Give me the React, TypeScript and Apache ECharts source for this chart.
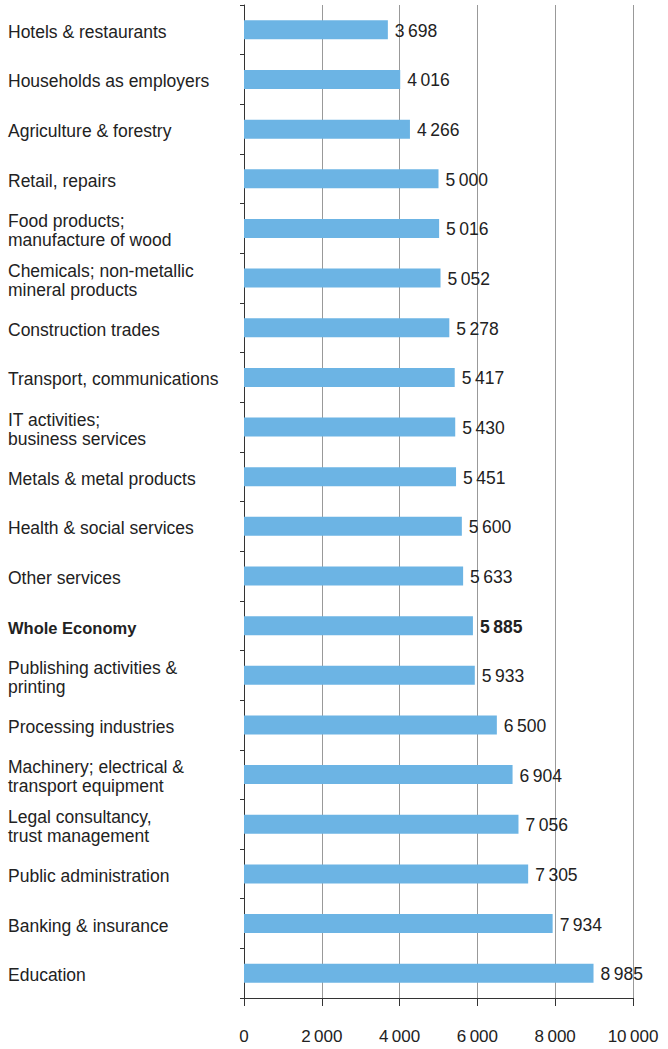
import React, { useEffect, useRef } from "react";
import * as echarts from "echarts";

const categories = [
  "Hotels & restaurants",
  "Households as employers",
  "Agriculture & forestry",
  "Retail, repairs",
  "Food products;\nmanufacture of wood",
  "Chemicals; non-metallic\nmineral products",
  "Construction trades",
  "Transport, communications",
  "IT activities;\nbusiness services",
  "Metals & metal products",
  "Health & social services",
  "Other services",
  "Whole Economy",
  "Publishing activities &\nprinting",
  "Processing industries",
  "Machinery; electrical &\ntransport equipment",
  "Legal consultancy,\ntrust management",
  "Public administration",
  "Banking & insurance",
  "Education",
];

const values = [
  3698, 4016, 4266, 5000, 5016, 5052, 5278, 5417, 5430, 5451, 5600, 5633, 5885,
  5933, 6500, 6904, 7056, 7305, 7934, 8985,
];

const highlight = "Whole Economy";

const fmt = (v: number) => {
  const s = String(Math.round(v));
  return s.replace(/\B(?=(\d{3})+(?!\d))/g, "\u2009");
};

const FONT = "Liberation Sans, Arial, sans-serif";
const FS = 17.5;

export default function App() {
  const ref = useRef<HTMLDivElement>(null);
  useEffect(() => {
    document.body.style.margin = "0";
    const chart = echarts.init(ref.current!, null, { renderer: "svg" });
    chart.setOption({
      animation: false,
      textStyle: { fontFamily: FONT },
      grid: { left: 244, right: 35, top: 5, bottom: 51, containLabel: false },
      xAxis: {
        type: "value",
        min: 0,
        max: 10000,
        interval: 2000,
        axisLine: { show: true, lineStyle: { color: "#333", width: 1 } },
        axisTick: { show: true, length: 8, lineStyle: { color: "#333" } },
        splitLine: { show: true, lineStyle: { color: "#999", width: 1 } },
        axisLabel: {
          margin: 30,
          fontSize: 17,
          color: "#222",
          fontFamily: FONT,
          formatter: (v: number) => fmt(v),
        },
      },
      yAxis: {
        type: "category",
        inverse: true,
        data: categories,
        axisLine: { show: true, lineStyle: { color: "#333", width: 1 } },
        axisTick: { show: true, length: 4, lineStyle: { color: "#333" } },
        axisLabel: {
          align: "left",
          margin: 236,
          fontSize: FS,
          lineHeight: 19,
          padding: [4, 0, 0, 0],
          color: "#222",
          fontFamily: FONT,
          formatter: (v: string) => (v === highlight ? "{b|" + v + "}" : v),
          rich: {
            b: { fontWeight: "bold", fontSize: 16.5, color: "#222", fontFamily: FONT },
          },
        },
      },
      series: [
        {
          type: "bar",
          data: values.map((v, i) => ({
            value: v,
            label:
              categories[i] === highlight
                ? { fontWeight: "bold" }
                : undefined,
          })),
          barWidth: 19,
          itemStyle: { color: "#6cb4e4" },
          label: {
            show: true,
            position: "right",
            distance: 7,
            offset: [0, 1],
            fontSize: FS,
            color: "#222",
            fontFamily: FONT,
            formatter: (p: any) => fmt(p.value),
          },
        },
      ],
    });
    return () => chart.dispose();
  }, []);
  return <div ref={ref} style={{ width: 668, height: 1049 }} />;
}
